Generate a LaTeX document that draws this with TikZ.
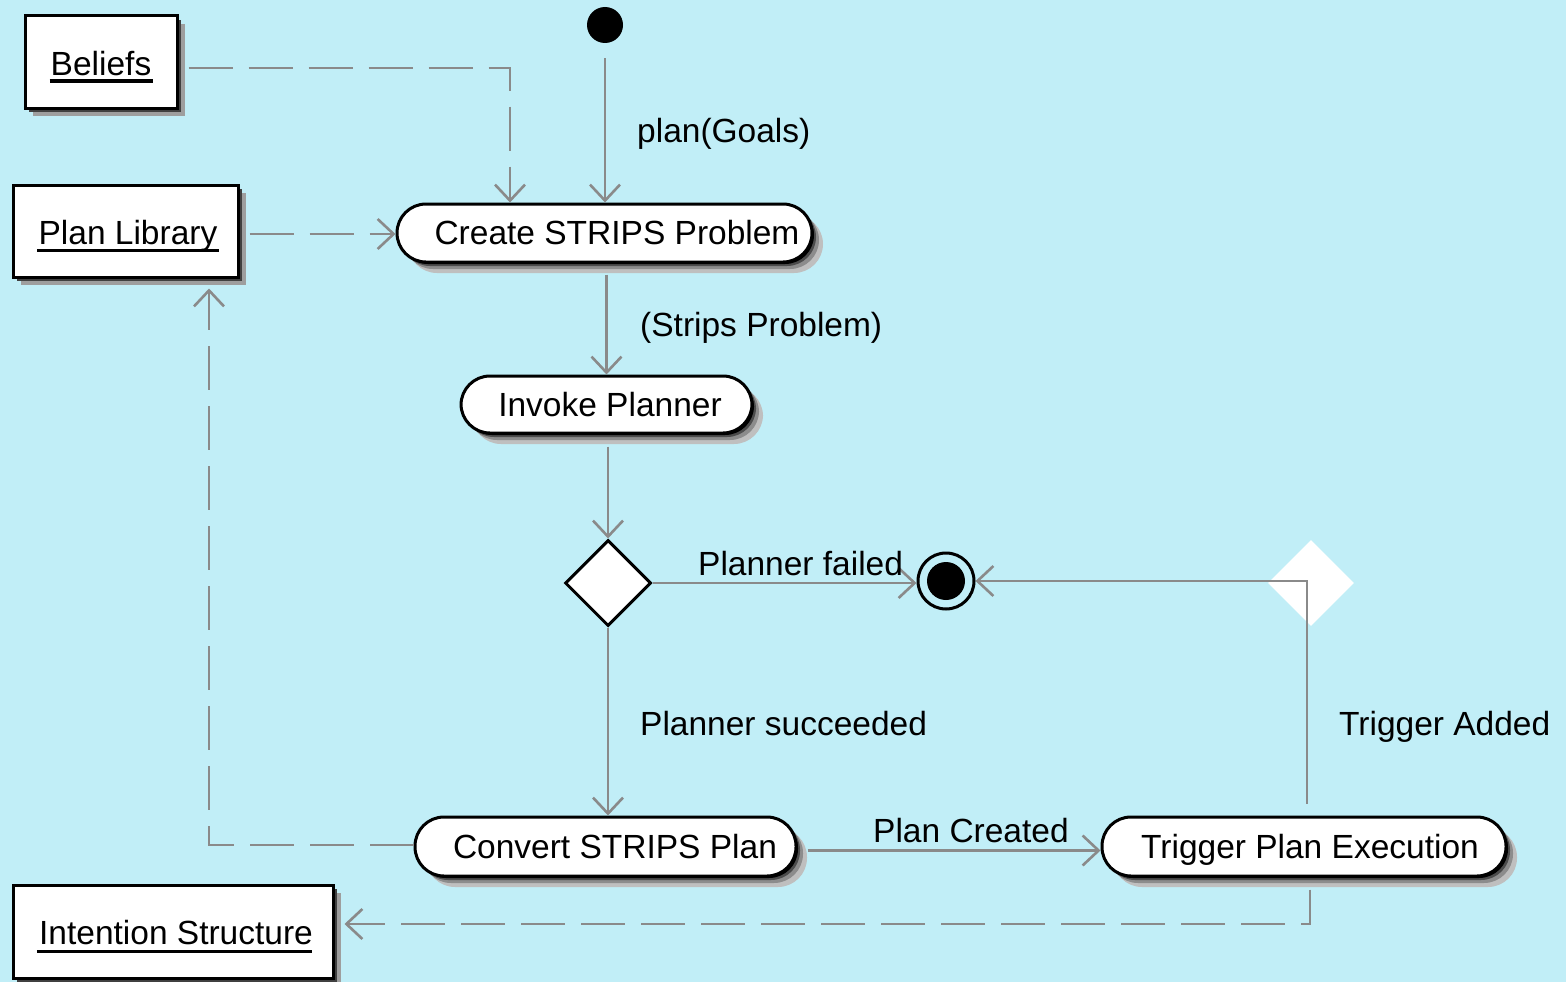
\documentclass[tikz,border=0pt]{standalone}
\usepackage{fontspec}
\setmainfont{Liberation Sans}
\usetikzlibrary{arrows.meta,shapes.geometric,shadows}

\definecolor{bgcyan}{RGB}{193,238,247}
\definecolor{flowgray}{RGB}{138,138,138}

\tikzset{
  txt/.style={font=\fontsize{33.5}{40}\selectfont, inner sep=0pt, text height=30pt, text depth=6pt},
  lbl/.style={font=\fontsize{33.5}{40}\selectfont, inner sep=0pt, anchor=base west},
  objbox/.style={draw=black, line width=3pt, fill=white, inner sep=0pt,
    general shadow={shadow xshift=8pt, shadow yshift=-8pt, fill=black!38},
    general shadow={shadow xshift=4pt, shadow yshift=-4pt, fill=black!75}},
  action/.style={draw=black, line width=3pt, fill=white, inner sep=0pt,
    rounded corners=29pt,
    general shadow={shadow xshift=11pt, shadow yshift=-11pt, fill=black!25},
    general shadow={shadow xshift=7pt, shadow yshift=-7pt, fill=black!45},
    general shadow={shadow xshift=4pt, shadow yshift=-4pt, fill=black!70},
    general shadow={shadow xshift=2pt, shadow yshift=-2pt, fill=black}},
  uline/.style={line width=3pt, line cap=butt},
  flow/.style={draw=flowgray, line width=2.6pt, ->},
  objflow/.style={flow, dash pattern=on 44pt off 16pt},
  >={Straight Barb[length=16pt,width=30pt]}
}

\begin{document}
\begin{tikzpicture}[x=1pt, y=-1pt]
  \useasboundingbox (0,0) rectangle (1566,982);
  \fill[bgcyan] (0,0) rectangle (1566,982);

  % object nodes
  \node[objbox, minimum width=152pt, minimum height=92pt] (beliefs) at (101,62) {};
  \node[txt] (beliefsT) at (101,63) {Beliefs};
  \draw[uline] ([xshift=-1pt,yshift=-6pt]beliefsT.base west) -- ([xshift=2pt,yshift=-6pt]beliefsT.base east);

  \node[objbox, minimum width=225pt, minimum height=92pt] (planlib) at (125.5,231) {};
  \node[txt] (planlibT) at (128,232) {Plan Library};
  \draw[uline] ([xshift=-1pt,yshift=-6pt]planlibT.base west) -- ([xshift=1pt,yshift=-6pt]planlibT.base east);

  \node[objbox, minimum width=320pt, minimum height=93pt] (intention) at (173,931.5) {};
  \node[txt] (intentionT) at (176,932) {Intention Structure};
  \draw[uline] ([xshift=-2pt,yshift=-7pt]intentionT.base west) -- ([xshift=-1pt,yshift=-7pt]intentionT.base east);

  % control nodes
  \node[circle, fill=black, minimum size=36pt, inner sep=0pt] (start) at (605,25) {};
  \node[diamond, draw=black, line width=3pt, fill=white, minimum width=86pt, minimum height=86pt, inner sep=0pt] (decide) at (608,583) {};
  \node[diamond, fill=white, minimum width=86pt, minimum height=86pt, inner sep=0pt] (merge) at (1311,583) {};
  \node[circle, draw=black, line width=3pt, minimum size=56pt, inner sep=0pt] (final) at (946,581) {};
  \fill[black] (final) circle (19pt);

  % actions
  \node[action, minimum width=415pt, minimum height=58pt] (create) at (604.5,233) {};
  \node[txt] (createT) at (617,232) {Create STRIPS Problem};
  \node[action, minimum width=291pt, minimum height=57pt] (invoke) at (606.5,404.5) {};
  \node[txt] (invokeT) at (610,404) {Invoke Planner};
  \node[action, minimum width=381pt, minimum height=59pt] (convert) at (605.5,846.5) {};
  \node[txt] (convertT) at (615,846) {Convert STRIPS Plan};
  \node[action, minimum width=404pt, minimum height=59pt] (trigger) at (1304,846.5) {};
  \node[txt] (triggerT) at (1310,846) {Trigger Plan Execution};

  % control flow
  \draw[flow, shorten <=15pt] (start.south) -- (start.south |- create.north);
  \draw[flow, shorten <=11pt] (invoke.north |- create.south) -- (invoke.north);
  \draw[flow, shorten <=12pt] (decide.north |- invoke.south) -- (decide.north);
  \draw[flow] (decide.east) -- (decide.east -| final.west);
  \draw[flow] (decide.south) -- (decide.south |- convert.north);
  \draw[flow, shorten <=10pt] ([yshift=-4pt]convert.east) -- ([yshift=-4pt]trigger.west);
  \draw[flow, shorten <=12pt] ([xshift=3pt]trigger.north) |- (final.east);

  % object flow
  \draw[objflow, shorten <=10pt] ([yshift=-6pt]beliefs.east) -| ([xshift=-94.5pt]create.north);
  \draw[objflow, shorten <=10pt] ([yshift=-3pt]planlib.east) -- ([yshift=-1pt]create.west);
  \draw[objflow, shorten >=10pt] ([yshift=1.5pt]convert.west) -| ([xshift=83.5pt]planlib.south);
  \draw[objflow, shorten <=12pt, shorten >=10pt] ([xshift=6pt]trigger.south) |- ([yshift=7.5pt]intention.east);

  % flow labels
  \node[lbl] (l1) at (637,142) {plan(Goals)};
  \node[lbl] (l2) at (640,336) {(Strips Problem)};
  \node[lbl] (l3) at (698,575) {Planner failed};
  \node[lbl] (l4) at (640,735) {Planner succeeded};
  \node[lbl] (l5) at (873,842) {Plan Created};
  \node[lbl] (l6) at (1339,735) {Trigger Added};
\end{tikzpicture}
\end{document}
